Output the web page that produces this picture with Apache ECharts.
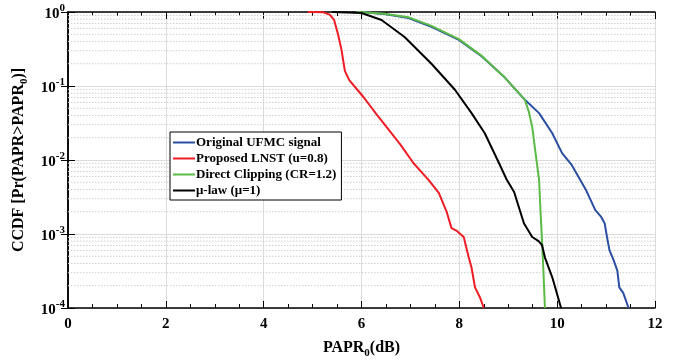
<!DOCTYPE html>
<html><head><meta charset="utf-8">
<script src="https://cdn.jsdelivr.net/npm/echarts@6/dist/echarts.min.js"></script>
<style>html,body{margin:0;padding:0;background:#fff}#c{width:675px;height:360px}</style>
</head><body><div id="c"></div>
<script>
const seriesNames = ['Original UFMC signal','Proposed LNST (u=0.8)','Direct Clipping (CR=1.2)','\u03bc-law (\u03bc=1)'];
const seriesColors = ['#2b4ea2','#ee1c25','#5cbb46','#000000'];

const blueX = [5.9, 6.06, 6.5, 6.96, 7.43, 7.99, 8.46, 8.93, 9.34, 9.63, 9.90, 10.10, 10.30, 10.47, 10.60, 10.78, 10.90, 10.97, 11.02, 11.07, 11.15, 11.23, 11.27, 11.35, 11.46];
const blueY = [1, 0.99, 0.93, 0.83, 0.63, 0.42, 0.25, 0.13, 0.065, 0.043, 0.023, 0.0124, 0.0085, 0.0054, 0.0038, 0.0021, 0.0017, 0.0014, 0.0009, 0.0006, 0.00045, 0.00032, 0.00019, 0.00016, 0.0001];

const redX = [4.9, 5.22, 5.35, 5.44, 5.52, 5.59, 5.66, 5.75, 5.85, 6.04, 6.3, 6.51, 6.8, 7.06, 7.2, 7.37, 7.58, 7.74, 7.84, 7.95, 8.09, 8.19, 8.25, 8.32, 8.42, 8.50];
const redY = [1, 0.99, 0.92, 0.78, 0.5, 0.31, 0.16, 0.12, 0.1, 0.071, 0.042, 0.028, 0.016, 0.0091, 0.0072, 0.0054, 0.0036, 0.0020, 0.0012, 0.0011, 0.00091, 0.00049, 0.00035, 0.00019, 0.00014, 0.0001];

const greenX = [5.9, 6.06, 6.5, 6.96, 7.43, 7.99, 8.46, 8.93, 9.34, 9.42, 9.49, 9.55, 9.63, 9.66, 9.69, 9.72, 9.75];
const greenY = [1, 0.995, 0.94, 0.85, 0.65, 0.43, 0.255, 0.13, 0.065, 0.045, 0.028, 0.0137, 0.0054, 0.002, 0.00083, 0.0003, 0.0001];

const blackX = [5.4, 6.0, 6.41, 6.88, 7.43, 7.91, 8.25, 8.52, 8.81, 8.97, 9.12, 9.32, 9.49, 9.62, 9.69, 9.75, 9.90, 10.08];
const blackY = [1, 0.97, 0.78, 0.46, 0.20, 0.089, 0.043, 0.023, 0.0091, 0.0054, 0.0037, 0.0014, 0.00091, 0.0008, 0.00071, 0.00048, 0.00026, 0.0001];

const xTicks = [0, 2, 4, 6, 8, 10, 12];
const xRange = [0, 12];
const minorY = [];
for (let e = -4; e < 0; e++) for (let m = 2; m <= 9; m++) minorY.push(m * Math.pow(10, e));

const FONT = "'Liberation Serif','Times New Roman',serif";
const pairs = (xs, ys) => xs.map((x, i) => [x, ys[i]]);

const chart = echarts.init(document.getElementById('c'), null, {renderer: 'canvas'});
const axisCommon = {
  axisLine: {show: true, lineStyle: {color: '#000', width: 1.5}},
  axisTick: {show: true, inside: true, length: 7, lineStyle: {color: '#000', width: 1}},
};
const gridSeries = minorY.map(v => ({
  type: 'line', symbol: 'none', silent: true, z: 1,
  data: [[xRange[0], v], [xRange[1], v]],
  lineStyle: {type: [1.5, 1.5], color: '#cfcfcf', width: 1},
  emphasis: {disabled: true}, tooltip: {show: false}
}));
const option = {
  animation: false,
  backgroundColor: '#fff',
  grid: {left: 68, right: 20, top: 12, bottom: 52, containLabel: false, outerBoundsMode: 'none'},
  legend: {
    data: seriesNames,
    orient: 'vertical',
    left: 170, top: 132,
    backgroundColor: '#fff',
    borderColor: '#000', borderWidth: 1,
    padding: [4, 5, 3, 3],
    itemGap: 3,
    icon: 'rect',
    itemWidth: 22, itemHeight: 2,
    textStyle: {fontFamily: FONT, fontWeight: 'bold', fontSize: 13, color: '#000', padding: [0, 0, 0, -4]}
  },
  xAxis: [{
    type: 'value', min: 0, max: 12, interval: 2, position: 'bottom',
    ...axisCommon,
    minorTick: {show: true, splitNumber: 4, length: 4, lineStyle: {color: '#000'}},
    splitLine: {show: true, lineStyle: {color: '#dcdcdc', width: 1}},
    axisLabel: {fontFamily: FONT, fontWeight: 'bold', fontSize: 15, color: '#000', margin: 9,
      formatter: v => xTicks.includes(v) ? String(v) : ''},
    name: 'PAPR{s|0}(dB)', nameLocation: 'middle', nameGap: 29,
    nameTextStyle: {fontFamily: FONT, fontWeight: 'bold', fontSize: 16, color: '#000',
      rich: {s: {fontFamily: FONT, fontWeight: 'bold', fontSize: 11, color: '#000', verticalAlign: 'top', padding: [11, 0, 0, 0]}}}
  }, {
    type: 'value', min: 0, max: 12, interval: 2, position: 'top',
    ...axisCommon,
    minorTick: {show: true, splitNumber: 4, length: 4, lineStyle: {color: '#000'}},
    splitLine: {show: false}, axisLabel: {show: false}
  }],
  yAxis: [{
    type: 'log', logBase: 10, min: 1e-4, max: 1, position: 'left',
    ...axisCommon,
    splitLine: {show: true, lineStyle: {color: '#dcdcdc', width: 1}},
    axisLabel: {margin: 3, formatter: v => '{b|10}{s|' + Math.round(Math.log10(v)) + '}',
      rich: {
        b: {fontFamily: FONT, fontWeight: 'bold', fontSize: 15, color: '#000', verticalAlign: 'bottom'},
        s: {fontFamily: FONT, fontWeight: 'bold', fontSize: 11, color: '#000', verticalAlign: 'bottom', padding: [0, 0, 8, 0]}
      }},
    name: 'CCDF [Pr(PAPR>PAPR{s|0})]', nameLocation: 'middle', nameGap: 34,
    nameTextStyle: {fontFamily: FONT, fontWeight: 'bold', fontSize: 16, color: '#000',
      rich: {s: {fontFamily: FONT, fontWeight: 'bold', fontSize: 11, color: '#000', verticalAlign: 'top', padding: [11, 0, 0, 0]}}}
  }, {
    type: 'log', logBase: 10, min: 1e-4, max: 1, position: 'right',
    ...axisCommon,
    splitLine: {show: false}, axisLabel: {show: false}
  }],
  series: gridSeries.concat([
    {name: seriesNames[0], type: 'line', symbol: 'none', data: pairs(blueX, blueY),
     lineStyle: {color: seriesColors[0], width: 2}, itemStyle: {color: seriesColors[0]}, z: 3},
    {name: seriesNames[1], type: 'line', symbol: 'none', data: pairs(redX, redY),
     lineStyle: {color: seriesColors[1], width: 2}, itemStyle: {color: seriesColors[1]}, z: 4},
    {name: seriesNames[2], type: 'line', symbol: 'none', data: pairs(greenX, greenY),
     lineStyle: {color: seriesColors[2], width: 2}, itemStyle: {color: seriesColors[2]}, z: 5},
    {name: seriesNames[3], type: 'line', symbol: 'none', data: pairs(blackX, blackY),
     lineStyle: {color: seriesColors[3], width: 2}, itemStyle: {color: seriesColors[3]}, z: 6}
  ])
};
chart.setOption(option);
</script></body></html>
